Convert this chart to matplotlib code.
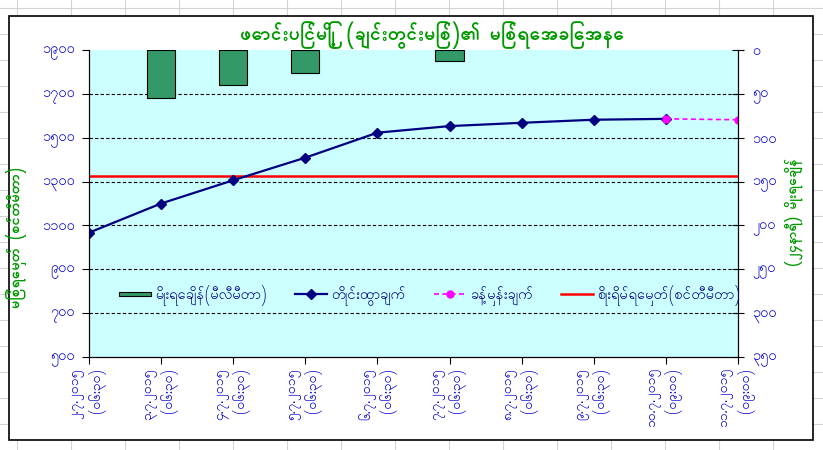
import matplotlib
matplotlib.use('Agg')
import matplotlib.pyplot as plt
from matplotlib.lines import Line2D
from matplotlib.patches import Rectangle, Patch
from matplotlib.legend_handler import HandlerPatch

dates = ['၂.၇.၂၀၁၅', '၃.၇.၂၀၁၅', '၄.၇.၂၀၁၅', '၅.၇.၂၀၁၅', '၆.၇.၂၀၁၅',
         '၇.၇.၂၀၁၅', '၈.၇.၂၀၁၅', '၉.၇.၂၀၁၅', '၁၀.၇.၂၀၁၅', '၁၁.၇.၂၀၁၅']
times = ['(၀၆:၃၀)'] * 8 + ['(၀၉:၀၀)'] * 2
level = [1067, 1200, 1306, 1409, 1523, 1553, 1568, 1582, 1586]
forecast = [1586, 1582]
rain = [0, 55, 40, 26, 0, 12, 0, 0, 0, 0]
danger = 1324

left_ticks = [500, 700, 900, 1100, 1300, 1500, 1700, 1900]
right_ticks = [0, 50, 100, 150, 200, 250, 300, 350]

def mm_digits(v):
    return str(v).translate(str.maketrans('0123456789', '၀၁၂၃၄၅၆၇၈၉'))

plt.rcParams['font.family'] = ['Padauk', 'DejaVu Sans']

W, H = 823, 450
fig = plt.figure(figsize=(W / 100, H / 100), dpi=100)

# spreadsheet cells behind the chart
for x in range(17, W, 54):
    fig.add_artist(Line2D([x / W] * 2, [0, 1], color='#d4d4d4', lw=0.8, zorder=-3))
for y in range(8, H, 26):
    fig.add_artist(Line2D([0, 1], [1 - y / H] * 2, color='#d4d4d4', lw=0.8, zorder=-3))
fig.add_artist(Rectangle((9 / W, 1 - 440 / H), 804 / W, 424 / H, facecolor='white',
                         edgecolor='black', lw=1.2, zorder=-2))

ax = fig.add_axes([89 / W, 1 - 357 / H, (738 - 89) / W, (357 - 50) / H])
ax.set_facecolor('#ccffff')
ax2 = ax.twinx()

x = list(range(len(dates)))
ax.set_xlim(0, len(dates) - 1)
ax.set_ylim(500, 1900)
for t in left_ticks[1:-1]:
    ax.axhline(t, color='black', lw=0.8, ls=(0, (3, 2)), zorder=1)

ax.axhline(danger, color='#ff0000', lw=1.8, zorder=2)
ax.plot(x[:len(level)], level, color='#000080', lw=1.6, marker='D', ms=5, zorder=3)
ax.plot(x[len(level) - 1:], forecast, color='#ff00ff', lw=1.2, ls=(0, (3, 2)),
        marker='o', ms=5, zorder=3)

# only days with rain get a bar
bx = [i for i, r in zip(x, rain) if r > 0]
br = [r for r in rain if r > 0]
ax2.bar(bx, br, width=0.39, color='#339966', edgecolor='black', lw=0.8)
ax2.set_ylim(350, 0)

ax.set_yticks(left_ticks)
ax.set_yticklabels([mm_digits(t) for t in left_ticks])
ax2.set_yticks(right_ticks)
ax2.set_yticklabels([mm_digits(t) for t in right_ticks])
ax.set_xticks(x)
ax.set_xticklabels([d + '\n' + t for d, t in zip(dates, times)], rotation=90,
                   ha='center', va='top', multialignment='right', linespacing=1.25)

for a in (ax, ax2):
    a.spines['top'].set_visible(False)
ax.tick_params(axis='y', direction='out', length=5, pad=5, labelsize=10.5, labelcolor='#0000cc')
ax.tick_params(axis='x', direction='out', length=5, pad=3, labelsize=10, labelcolor='#0000cc')
ax2.tick_params(axis='y', direction='inout', length=8, pad=6, labelsize=10.5, labelcolor='#0000cc')

fig.text(432 / W, 1 - 35 / H, 'ဖောင်းပြင်မြို့ (ချင်းတွင်းမြစ်)၏ မြစ်ရေအခြေအနေ',
         ha='center', va='center', fontsize=14, fontweight='bold', color='#009900')
fig.text(17 / W, 1 - 237 / H, 'မြစ်ရေမှတ် (စင်တီမီတာ)', rotation=90,
         ha='center', va='center', fontsize=10.5, fontweight='bold', color='#009900')
fig.text(794 / W, 1 - 212 / H, '(၂၄နာရီ) မိုးရေချိန်', rotation=90,
         ha='center', va='center', fontsize=10, fontweight='bold', color='#009900')

# flat legend key for the rain bars
def thin_box(legend, orig_handle, xdescent, ydescent, width, height, fontsize):
    return Rectangle((-xdescent, -ydescent + height * 0.28), width, height * 0.45)

handles = [Patch(facecolor='#339966', edgecolor='black', lw=0.8),
           Line2D([], [], color='#000080', lw=1.6, marker='D', ms=5),
           Line2D([], [], color='#ff00ff', lw=1.2, ls=(0, (3, 2)), marker='o', ms=5),
           Line2D([], [], color='#ff0000', lw=1.8)]
labels = ['မိုးရေချိန်(မီလီမီတာ)', 'တိုင်းထွာချက်', 'ခန့်မှန်းချက်', 'စိုးရိမ်ရေမှတ်(စင်တီမီတာ)']
leg = ax2.legend(handles, labels, ncol=4, loc='center', bbox_to_anchor=(0.525, 0.2),
                 frameon=False, fontsize=10.5, columnspacing=1.9, handlelength=2.2,
                 handletextpad=0.3, handler_map={Patch: HandlerPatch(patch_func=thin_box)})
for t in leg.get_texts():
    t.set_color('#000080')

fig.savefig('out.png', dpi=100)
